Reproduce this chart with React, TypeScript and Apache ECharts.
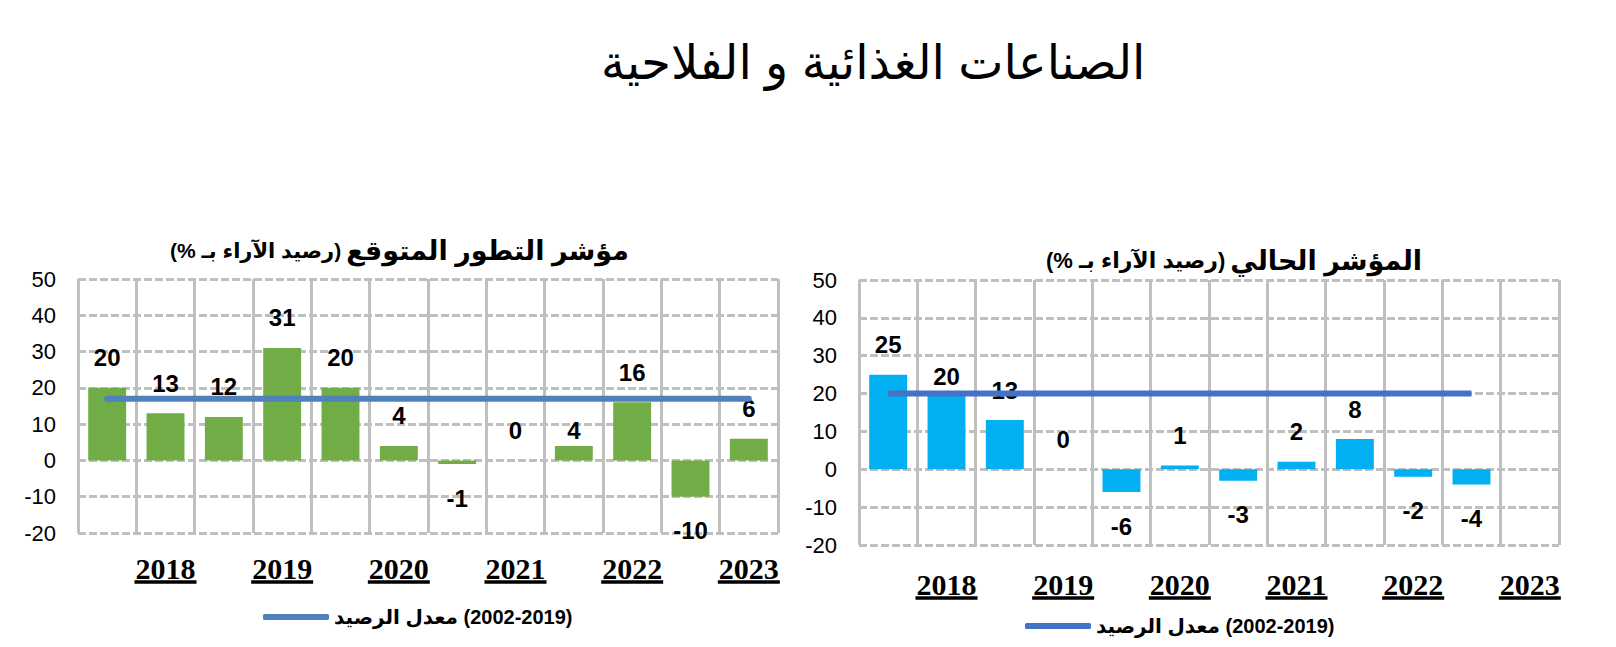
import React, { useEffect, useRef } from "react";
import * as echarts from "echarts";

// ---- data ----
const periods = [
  "2018-1", "2018-2", "2019-1", "2019-2", "2020-1", "2020-2",
  "2021-1", "2021-2", "2022-1", "2022-2", "2023-1", "2023-2",
];
const yearTicks = ["2018", "2019", "2020", "2021", "2022", "2023"];

const expectedValues = [20, 13, 12, 31, 20, 4, -1, 0, 4, 16, -10, 6];
const expectedAverage = [17, 17, 17, 17, 17, 17, 17, 17, 17, 17, 17, 17];

const currentValues = [25, 20, 13, 0, -6, 1, -3, 2, 8, -2, -4, null];
const currentAverage = [20, 20, 20, 20, 20, 20, 20, 20, 20, 20, 20, null];

const mainTitle = "الصناعات الغذائية و الفلاحية";
const leftTitleBold = "مؤشر التطور المتوقع";
const rightTitleBold = "المؤشر الحالي";
const titleNote = "(رصيد الآراء بـ %)";
const averageWords = "معدل الرصيد";
const averagePeriod = "(2002-2019)";

// ---- helpers ----
const RLM = "\u200F";
const LRE = "\u202A";
const PDF = "\u202C";
const rtl = (s: string) => RLM + s + RLM;
const averageName = RLM + averageWords + " " + LRE + averagePeriod + PDF + RLM;

const SANS = "'Liberation Sans', Arial, 'DejaVu Sans', sans-serif";
const SERIF = "'Liberation Serif', 'Times New Roman', serif";

const GRID_GRAY = "#bfbfbf";

function barData(values: (number | null)[], nudges: Record<number, number>) {
  return values.map((v, i) => {
    if (v === null) return "-";
    const neg = v < 0;
    return {
      value: v,
      label: {
        position: neg ? "bottom" : "top",
        distance: neg ? 22 : 18,
        offset: [0, nudges[i] || 0],
      },
    };
  });
}

function xAxis(gridIndex: number, labelMargin: number) {
  return {
    type: "category",
    gridIndex,
    data: periods,
    boundaryGap: true,
    axisLine: { show: false },
    axisTick: { show: false, interval: 0 },
    splitLine: {
      show: true,
      interval: 0,
      lineStyle: { color: GRID_GRAY, width: 3, type: "solid" },
    },
    axisLabel: {
      interval: (i: number) => i % 2 === 1,
      margin: labelMargin,
      formatter: (_v: string, i: number) =>
        `{y|${yearTicks[Math.floor(i / 2)]}}\n{u|}`,
      rich: {
        y: {
          fontFamily: SERIF,
          fontWeight: "bold",
          fontSize: 30,
          lineHeight: 28,
          color: "#000",
        },
        u: {
          width: 62,
          height: 0,
          borderColor: "#000",
          borderWidth: 3.5,
        },
      },
    },
  };
}

function yAxis(gridIndex: number) {
  return {
    type: "value",
    gridIndex,
    min: -20,
    max: 50,
    interval: 10,
    axisLine: { show: false },
    axisTick: { show: false },
    splitLine: {
      show: true,
      lineStyle: { color: GRID_GRAY, width: 3, type: [8, 3] },
    },
    axisLabel: {
      fontFamily: SANS,
      fontSize: 22,
      color: "#000",
      margin: 22,
    },
  };
}

const barLabel = {
  show: true,
  fontFamily: SANS,
  fontWeight: "bold",
  fontSize: 24,
  color: "#000",
};

function subtitle(bold: string, left: number, top: number, scale: number) {
  return {
    text: `{n|${rtl(titleNote)}} {b|${rtl(bold)}}`,
    left,
    top,
    padding: 0,
    textStyle: {
      rich: {
        n: { fontFamily: SANS, fontSize: Math.round(20 * scale), color: "#000" },
        b: {
          fontFamily: SANS,
          fontSize: Math.round(25 * scale),
          fontWeight: "bold",
          color: "#000",
        },
      },
    },
  };
}

function legend(left: number, top: number, color: string) {
  return {
    left,
    top,
    padding: 0,
    icon: "roundRect",
    itemWidth: 66,
    itemHeight: 6,
    selectedMode: false,
    data: [{ name: averageName, itemStyle: { color } }],
    textStyle: {
      fontFamily: SANS,
      fontWeight: "bold",
      fontSize: 20,
      color: "#000",
    },
  };
}

export default function App() {
  const ref = useRef<HTMLDivElement>(null);

  useEffect(() => {
    if (!ref.current) return;
    const chart = echarts.init(ref.current, undefined, { renderer: "svg" });

    const option = {
      animation: false,
      backgroundColor: "#ffffff",
      title: [
        {
          text: mainTitle,
          left: 601,
          top: 38,
          padding: 0,
          textStyle: {
            fontFamily: SANS,
            fontSize: 48,
            fontWeight: "normal",
            color: "#000",
          },
        },
        subtitle(leftTitleBold, 170, 237, 1.06),
        subtitle(rightTitleBold, 1046, 247, 1.08),
      ],
      legend: [legend(263, 607, "#4f81bd"), legend(1025, 616, "#4472c4")],
      grid: [
        { left: 78, top: 279, width: 700, height: 254 },
        { left: 859, top: 280, width: 700, height: 265 },
      ],
      xAxis: [xAxis(0, 21), xAxis(1, 25)],
      yAxis: [yAxis(0), yAxis(1)],
      series: [
        {
          type: "bar",
          xAxisIndex: 0,
          yAxisIndex: 0,
          barWidth: "65%",
          itemStyle: { color: "#70ad47" },
          label: barLabel,
          data: barData(expectedValues, { 8: 15 }),
          z: 2,
        },
        {
          type: "line",
          name: averageName,
          xAxisIndex: 0,
          yAxisIndex: 0,
          data: expectedAverage,
          symbol: "none",
          lineStyle: { color: "#4f81bd", width: 6, cap: "round" },
          itemStyle: { color: "#4f81bd" },
          z: 3,
        },
        {
          type: "bar",
          xAxisIndex: 1,
          yAxisIndex: 1,
          barWidth: "65%",
          itemStyle: { color: "#00b0f0" },
          label: barLabel,
          data: barData(currentValues, { 1: 13 }),
          z: 2,
        },
        {
          type: "line",
          name: averageName,
          xAxisIndex: 1,
          yAxisIndex: 1,
          data: currentAverage,
          symbol: "none",
          lineStyle: { color: "#4472c4", width: 6 },
          itemStyle: { color: "#4472c4" },
          z: 3,
        },
      ],
    };

    chart.setOption(option as any);
    return () => chart.dispose();
  }, []);

  return (
    <div
      ref={ref}
      style={{ position: "absolute", left: 0, top: 0, width: 1616, height: 647 }}
    />
  );
}
